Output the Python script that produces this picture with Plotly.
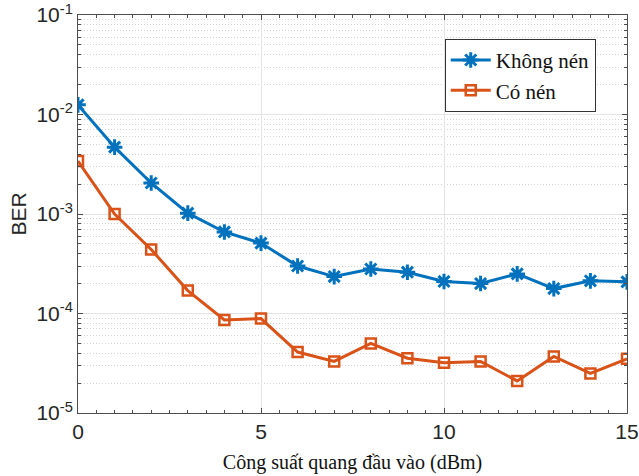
import plotly.graph_objects as go

# Input optical power (dBm)
power_dbm = list(range(0, 16))

# Bit error rate without compression
ber_khong_nen = [1.25e-2, 4.7e-3, 2.05e-3, 1.02e-3, 6.6e-4, 5.1e-4, 3.0e-4, 2.35e-4,
                 2.8e-4, 2.6e-4, 2.1e-4, 2.0e-4, 2.5e-4, 1.78e-4, 2.13e-4, 2.08e-4]

# Bit error rate with compression
ber_co_nen = [3.4e-3, 1.0e-3, 4.4e-4, 1.7e-4, 8.6e-5, 8.9e-5, 4.1e-5, 3.3e-5,
              5.0e-5, 3.55e-5, 3.2e-5, 3.3e-5, 2.1e-5, 3.7e-5, 2.5e-5, 3.5e-5]

series_names = ["Không nén", "Có nén"]

y_tickvals = [1e-5, 1e-4, 1e-3, 1e-2, 1e-1]
y_ticktext = ["10<sup>-5</sup>", "10<sup>-4</sup>", "10<sup>-3</sup>", "10<sup>-2</sup>", "10<sup>-1</sup>"]
y_minor = [m * 10 ** e for e in range(-5, -1) for m in range(2, 10)]

x_tickvals = [0, 5, 10, 15]
x_minor = [v / 2 for v in range(0, 31)]

BLUE = "#0072BD"
ORANGE = "#D95319"
SERIF = "Liberation Serif"
SANS = "Liberation Sans"

fig = go.Figure()
fig.add_trace(go.Scatter(
    x=power_dbm, y=ber_khong_nen, name=series_names[0], mode="lines+markers",
    line=dict(color=BLUE, width=3),
    marker=dict(symbol="asterisk-open", size=13, color=BLUE, line=dict(color=BLUE, width=3)),
))
fig.add_trace(go.Scatter(
    x=power_dbm, y=ber_co_nen, name=series_names[1], mode="lines+markers",
    line=dict(color=ORANGE, width=3),
    marker=dict(symbol="square-open", size=10, color=ORANGE, line=dict(color=ORANGE, width=2.5)),
))

axis_common = dict(
    showline=True, linecolor="#4d4d4d", linewidth=1, mirror="all",
    ticks="inside", ticklen=5, tickcolor="#4d4d4d",
    showgrid=True, gridcolor="#e3e3e3", gridwidth=1,
    zeroline=False, automargin=False,
    tickfont=dict(family=SANS, size=21, color="#262626"),
)

fig.update_xaxes(
    **axis_common,
    range=[0, 15], tickmode="array", tickvals=x_tickvals,
    ticktext=[str(v) for v in x_tickvals],
    minor=dict(tickmode="array", tickvals=x_minor, ticks="inside", ticklen=3,
               tickcolor="#4d4d4d", showgrid=False),
    title=dict(text="Công suất quang đầu vào (dBm)",
               font=dict(family=SERIF, size=20, color="#111111"),
               standoff=12),
)
fig.update_yaxes(
    **axis_common,
    type="log", range=[-5, -1], tickmode="array", tickvals=y_tickvals, ticktext=y_ticktext,
    minor=dict(tickmode="array", tickvals=y_minor, ticks="inside", ticklen=3,
               tickcolor="#4d4d4d", showgrid=True, gridcolor="#d2d2d2", griddash="1px,2px"),
    title=dict(text="BER", font=dict(family=SANS, size=21, color="#262626"), standoff=4),
)

fig.update_layout(
    width=639, height=476,
    margin=dict(l=78, r=12, t=15, b=63),
    paper_bgcolor="white", plot_bgcolor="white",
    showlegend=True,
    legend=dict(
        x=0.668, y=0.94, xanchor="left", yanchor="top",
        bgcolor="white", bordercolor="#333333", borderwidth=1,
        font=dict(family=SERIF, size=21, color="#111111"),
        tracegroupgap=0, itemwidth=40, entrywidth=125,
    ),
)

fig.write_html("out.html")
